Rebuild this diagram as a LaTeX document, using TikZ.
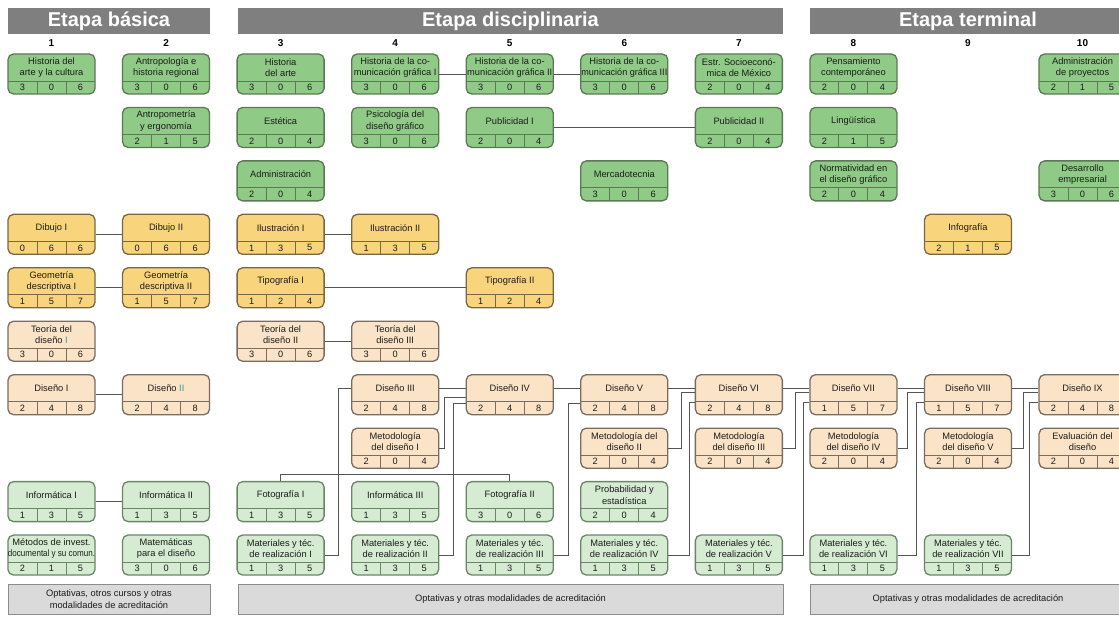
\documentclass[tikz,border=0pt]{standalone}
\usepackage{fontspec}
\setmainfont{Liberation Sans}
\usepackage{graphicx}
\usetikzlibrary{calc}
\definecolor{cG}{HTML}{8FCA86}
\definecolor{bG}{HTML}{5A7A54}
\definecolor{cY}{HTML}{F8D47C}
\definecolor{bY}{HTML}{7A6844}
\definecolor{cP}{HTML}{FBE3C7}
\definecolor{bP}{HTML}{7A6C5E}
\definecolor{cL}{HTML}{D5EBD2}
\definecolor{bL}{HTML}{6A8667}
\definecolor{hdrc}{HTML}{7F7F7F}
\definecolor{optc}{HTML}{DADADA}
\definecolor{optb}{HTML}{8C8C8C}
\definecolor{lnkc}{HTML}{555555}
\definecolor{txtc}{HTML}{1C1C1C}
\definecolor{tealx}{HTML}{3E9C9C}
\newsavebox\fitbox
\newcommand\fl[2][83pt]{\sbox\fitbox{#2}\ifdim\wd\fitbox>#1\resizebox{#1}{\height}{\usebox\fitbox}\else\usebox\fitbox\fi}
\tikzset{
  box/.style={rounded corners=5.5pt, minimum width=87pt, minimum height=40pt, line width=1.3pt, inner sep=0pt},
  G/.style={fill=cG, draw=bG},
  Y/.style={fill=cY, draw=bY},
  P/.style={fill=cP, draw=bP},
  L/.style={fill=cL, draw=bL},
  ttl/.style={inner sep=0pt, align=center, text=txtc, font=\fontsize{9.3}{11.5}\selectfont},
  num/.style={inner sep=0pt, text=txtc, font=\fontsize{9.2}{10}\selectfont},
  conn/.style={draw=lnkc, line width=0.9pt},
  hdr/.style={fill=hdrc, minimum height=26pt, inner sep=0pt, text=white, font=\fontsize{20}{22}\bfseries\selectfont},
  colnum/.style={inner sep=0pt, text=black, font=\fontsize{10}{11}\bfseries\selectfont},
  optbox/.style={fill=optc, draw=optb, line width=1pt, minimum height=30pt, inner sep=0pt, align=center, text=txtc, font=\fontsize{9.3}{11.5}\selectfont},
}
\newcommand\crs[8]{%
  \pgfmathsetmacro\crsX{51.5+114.56*(#2-1)}%
  \pgfmathsetmacro\crsY{54+53.45*(#3-1)}%
  \node[box,#4] (#1) at (\crsX,\crsY+20) {};
  \draw[#4,fill=none,line width=0.9pt] (\crsX-43.5,\crsY+27) -- (\crsX+43.5,\crsY+27)
    (\crsX-14.5,\crsY+27) -- (\crsX-14.5,\crsY+40)
    (\crsX+14.5,\crsY+27) -- (\crsX+14.5,\crsY+40);
  \node[ttl] (#1-t) at (\crsX,\crsY+13.5) {#5};
  \node[num] (#1-a) at (\crsX-29,\crsY+33.5) {#6};
  \node[num] (#1-b) at (\crsX,\crsY+33.5) {#7};
  \node[num] (#1-c) at (\crsX+29,\crsY+33.5) {#8};
}
\begin{document}
\begin{tikzpicture}[x=1pt,y=-1pt]
\clip (0,0) rectangle (1119,617);
\fill[white] (0,0) rectangle (1119,617);
% headers
\node[hdr, minimum width=202pt] (eb) at (109,21) {Etapa básica};
\node[hdr, minimum width=545pt] (ed) at (510.5,21) {Etapa disciplinaria};
\node[hdr, minimum width=316pt] (et) at (968,21) {Etapa terminal};
\foreach \k in {1,...,10}{
  \pgfmathsetmacro\nx{51.5+114.56*(\k-1)}
  \node[colnum] (n\k) at (\nx,43) {\k};
}
% column 1
\crs{h1}{1}{1}{G}{Historia del\\arte y la cultura}{3}{0}{6}
\crs{dib1}{1}{4}{Y}{Dibujo I}{0}{6}{6}
\crs{geo1}{1}{5}{Y}{Geometría\\descriptiva I}{1}{5}{7}
\crs{teo1}{1}{6}{P}{Teoría del\\diseño \textcolor{tealx}{I}}{3}{0}{6}
\crs{dis1}{1}{7}{P}{Diseño I}{2}{4}{8}
\crs{inf1}{1}{9}{L}{Informática I}{1}{3}{5}
\crs{met}{1}{10}{L}{\fl[87pt]{Métodos de invest.}\\\fl[87pt]{documental y su comun.}}{2}{1}{5}
% column 2
\crs{antro}{2}{1}{G}{Antropología e\\historia regional}{3}{0}{6}
\crs{antrop}{2}{2}{G}{Antropometría\\y ergonomía}{2}{1}{5}
\crs{dib2}{2}{4}{Y}{Dibujo II}{0}{6}{6}
\crs{geo2}{2}{5}{Y}{Geometría\\descriptiva II}{1}{5}{7}
\crs{dis2}{2}{7}{P}{Diseño \textcolor{tealx}{II}}{2}{4}{8}
\crs{inf2}{2}{9}{L}{Informática II}{1}{3}{5}
\crs{mat}{2}{10}{L}{Matemáticas\\para el diseño}{3}{0}{6}
% column 3
\crs{ha}{3}{1}{G}{Historia\\del arte}{3}{0}{6}
\crs{est}{3}{2}{G}{Estética}{2}{0}{4}
\crs{adm}{3}{3}{G}{Administración}{2}{0}{4}
\crs{il1}{3}{4}{Y}{Ilustración I}{1}{3}{5}
\crs{tip1}{3}{5}{Y}{Tipografía I}{1}{2}{4}
\crs{teo2}{3}{6}{P}{Teoría del\\diseño II}{3}{0}{6}
\crs{fot1}{3}{9}{L}{Fotografía I}{1}{3}{5}
\crs{mt1}{3}{10}{L}{Materiales y téc.\\de realización I}{1}{3}{5}
% column 4
\crs{hc1}{4}{1}{G}{\fl{Historia de la co-}\\\fl[85pt]{municación gráfica I}}{3}{0}{6}
\crs{psi}{4}{2}{G}{Psicología del\\diseño gráfico}{3}{0}{6}
\crs{il2}{4}{4}{Y}{Ilustración II}{1}{3}{5}
\crs{teo3}{4}{6}{P}{Teoría del\\diseño III}{3}{0}{6}
\crs{dis3}{4}{7}{P}{Diseño III}{2}{4}{8}
\crs{mdi1}{4}{8}{P}{Metodología\\del diseño I}{2}{0}{4}
\crs{inf3}{4}{9}{L}{Informática III}{1}{3}{5}
\crs{mt2}{4}{10}{L}{Materiales y téc.\\de realización II}{1}{3}{5}
% column 5
\crs{hc2}{5}{1}{G}{\fl{Historia de la co-}\\\fl[85pt]{municación gráfica II}}{3}{0}{6}
\crs{pub1}{5}{2}{G}{Publicidad I}{2}{0}{4}
\crs{tip2}{5}{5}{Y}{Tipografía II}{1}{2}{4}
\crs{dis4}{5}{7}{P}{Diseño IV}{2}{4}{8}
\crs{fot2}{5}{9}{L}{Fotografía II}{3}{0}{6}
\crs{mt3}{5}{10}{L}{Materiales y téc.\\de realización III}{1}{3}{5}
% column 6
\crs{hc3}{6}{1}{G}{\fl{Historia de la co-}\\\fl[86pt]{municación gráfica III}}{3}{0}{6}
\crs{merc}{6}{3}{G}{Mercadotecnia}{3}{0}{6}
\crs{dis5}{6}{7}{P}{Diseño V}{2}{4}{8}
\crs{mdi2}{6}{8}{P}{Metodología del\\diseño II}{2}{0}{4}
\crs{prob}{6}{9}{L}{Probabilidad y\\estadística}{2}{0}{4}
\crs{mt4}{6}{10}{L}{Materiales y téc.\\de realización IV}{1}{3}{5}
% column 7
\crs{estr}{7}{1}{G}{\fl{Estr. Socioeconó-}\\\fl{mica de México}}{2}{0}{4}
\crs{pub2}{7}{2}{G}{Publicidad II}{2}{0}{4}
\crs{dis6}{7}{7}{P}{Diseño VI}{2}{4}{8}
\crs{mdi3}{7}{8}{P}{Metodología\\del diseño III}{2}{0}{4}
\crs{mt5}{7}{10}{L}{Materiales y téc.\\de realización V}{1}{3}{5}
% column 8
\crs{pens}{8}{1}{G}{Pensamiento\\contemporáneo}{2}{0}{4}
\crs{ling}{8}{2}{G}{Lingüística}{2}{1}{5}
\crs{norm}{8}{3}{G}{Normatividad en\\el diseño gráfico}{2}{0}{4}
\crs{dis7}{8}{7}{P}{Diseño VII}{1}{5}{7}
\crs{mdi4}{8}{8}{P}{Metodología\\del diseño IV}{2}{0}{4}
\crs{mt6}{8}{10}{L}{Materiales y téc.\\de realización VI}{1}{3}{5}
% column 9
\crs{info}{9}{4}{Y}{Infografía}{2}{1}{5}
\crs{dis8}{9}{7}{P}{Diseño VIII}{1}{5}{7}
\crs{mdi5}{9}{8}{P}{Metodología\\del diseño V}{2}{0}{4}
\crs{mt7}{9}{10}{L}{Materiales y téc.\\de realización VII}{1}{3}{5}
% column 10
\crs{admp}{10}{1}{G}{Administración\\de proyectos}{2}{1}{5}
\crs{des}{10}{3}{G}{Desarrollo\\empresarial}{3}{0}{6}
\crs{dis9}{10}{7}{P}{Diseño IX}{2}{4}{8}
\crs{eval}{10}{8}{P}{Evaluación del\\diseño}{2}{0}{4}
% optativas
\node[optbox, minimum width=202pt] (o1) at (109,599) {Optativas, otros cursos y otras\\modalidades de acreditación};
\node[optbox, minimum width=545pt] (o2) at (510.5,599) {Optativas y otras modalidades de acreditación};
\node[optbox, minimum width=316pt] (o3) at (968,599) {Optativas y otras modalidades de acreditación};
% straight connectors
\foreach \a/\b in {dib1/dib2, geo1/geo2, dis1/dis2, inf1/inf2, il1/il2, tip1/tip2, teo2/teo3, hc1/hc2, hc2/hc3, pub1/pub2}
  \draw[conn] (\a.east) -- (\b.west);
% design chain
\foreach \a/\b in {dis3/dis4, dis4/dis5, dis5/dis6, dis6/dis7, dis7/dis8, dis8/dis9}
  \draw[conn] (\a-t -| \a.east) -- (\b-t -| \b.west);
% elbows into the design chain
\draw[conn] (mt1.east) -- ++(14,0) |- (dis3-t -| dis3.west);
\draw[conn] (mdi1.east) -- ++(5,0) |- ($(dis4-t -| dis4.west)+(0,9)$);
\draw[conn] (mt2.east) -- ++(14,0) |- ($(dis4-t -| dis4.west)+(0,15.5)$);
\draw[conn] (mt3.east) -- ++(15,0) |- ($(dis5-t -| dis5.west)+(0,15)$);
\draw[conn] (mdi2.east) -- ++(13,0) |- ($(dis6-t -| dis6.west)+(0,4.5)$);
\draw[conn] (mt4.east) -- ++(21,0) |- ($(dis6-t -| dis6.west)+(0,14.5)$);
\draw[conn] (mdi3.east) -- ++(12,0) |- ($(dis7-t -| dis7.west)+(0,4.5)$);
\draw[conn] (mt5.east) -- ++(20,0) |- ($(dis7-t -| dis7.west)+(0,14.5)$);
\draw[conn] (mdi4.east) -- ++(10,0) |- ($(dis8-t -| dis8.west)+(0,4.5)$);
\draw[conn] (mt6.east) -- ++(19,0) |- ($(dis8-t -| dis8.west)+(0,14.5)$);
\draw[conn] (mdi5.east) -- ++(11,0) |- ($(dis9-t -| dis9.west)+(0,4.5)$);
\draw[conn] (mt7.east) -- ++(17,0) |- ($(dis9-t -| dis9.west)+(0,14.5)$);
% photography
\draw[conn] (fot1.north) -- ++(0,-7) -| (fot2.north);
\end{tikzpicture}
\end{document}
